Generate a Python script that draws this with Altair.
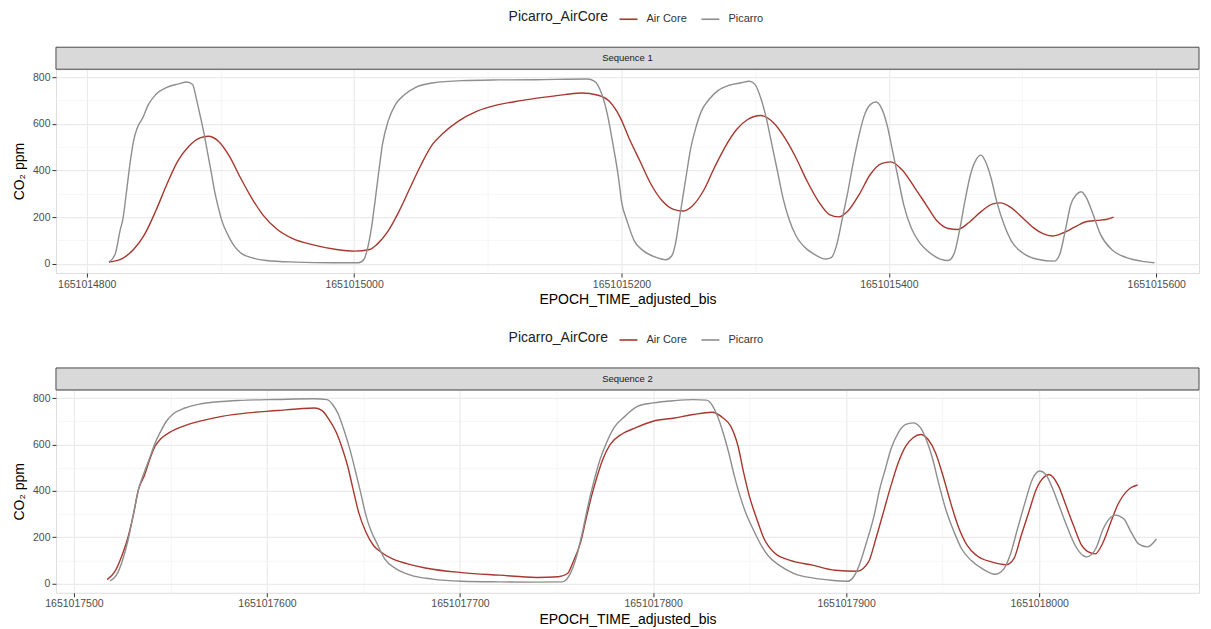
import altair as alt
import pandas as pd

# ---------------- data ----------------
SEQ1_T0 = 1651014800
SEQ2_T0 = 1651017500

seq1_air_t = [16.6, 26.8, 35.0, 43.3, 51.6, 59.9, 68.1, 76.4, 84.7, 90.8,
              98.5, 106.8, 115.0, 123.3, 131.6, 142.6, 153.7, 170.2, 186.8, 200.6,
              211.6, 217.1, 225.4, 233.7, 241.9, 250.2, 258.5, 266.8, 277.8, 291.6,
              308.1, 324.7, 341.2, 357.8, 370.2, 382.6, 390.9, 399.2, 405.6, 413.9,
              422.2, 430.6, 438.9, 445.8, 452.8, 461.1, 469.4, 477.8, 486.1, 494.4,
              504.2, 513.9, 522.2, 530.6, 538.9, 547.2, 555.6, 562.5, 569.4, 577.8,
              586.1, 594.4, 601.4, 609.7, 619.4, 627.8, 636.1, 644.4, 651.4, 659.7,
              669.4, 677.8, 683.3, 691.7, 700.0, 708.3, 715.3, 722.2, 730.6, 738.9,
              747.2, 755.6, 762.5, 768.1]
seq1_air_v = [7, 23, 61, 126, 226, 340, 440, 504, 540, 547,
              526, 461, 369, 283, 211, 147, 109, 80, 61, 54,
              61, 83, 140, 226, 326, 426, 511, 561, 611, 654,
              683, 700, 714, 726, 733, 723, 697, 626, 540, 440,
              340, 269, 233, 226, 247, 311, 411, 504, 576, 619,
              636, 604, 540, 454, 354, 269, 211, 201, 226, 297,
              383, 430, 437, 404, 326, 254, 183, 151, 147, 176,
              226, 257, 261, 240, 197, 154, 129, 119, 133, 157,
              180, 186, 190, 200]

seq1_pic_t = [16.6, 21.2, 25.4, 26.8, 29.5, 32.3, 35.0, 37.8, 41.9, 46.1,
              51.6, 59.9, 68.1, 75.0, 79.2, 81.9, 84.7, 87.4, 90.2, 93.0,
              95.7, 98.5, 101.2, 105.4, 109.5, 115.0, 123.3, 134.3, 156.4, 184.0,
              203.3, 207.4, 210.2, 213.0, 215.7, 218.5, 221.2, 225.4, 230.9, 237.8,
              246.1, 258.5, 280.6, 308.1, 335.7, 374.3, 379.9, 385.4, 389.5, 393.7,
              397.8, 400.0, 404.2, 409.7, 416.7, 425.0, 433.3, 437.5, 440.3, 443.1,
              445.8, 448.6, 451.4, 455.6, 459.7, 465.3, 472.2, 480.6, 488.9, 495.8,
              500.0, 504.2, 508.3, 512.5, 516.7, 520.8, 525.0, 530.6, 536.1, 544.4,
              552.8, 556.9, 561.1, 565.3, 569.4, 573.6, 577.8, 581.9, 586.1, 590.3,
              594.4, 598.6, 602.8, 606.9, 611.1, 616.7, 622.2, 630.6, 638.9, 644.4,
              648.6, 652.8, 656.9, 661.1, 665.3, 668.9, 672.2, 676.4, 680.6, 686.1,
              691.7, 700.0, 711.1, 723.6, 727.8, 731.9, 736.1, 740.3, 743.9, 747.8,
              752.8, 758.3, 766.7, 777.8, 788.9, 798.6]
seq1_pic_v = [7, 40, 154, 183, 297, 426, 526, 583, 626, 683,
              726, 757, 771, 780, 769, 711, 640, 569, 483, 397,
              311, 240, 183, 126, 83, 47, 26, 14, 7, 4,
              4, 19, 69, 154, 269, 397, 511, 611, 683, 726,
              757, 776, 786, 789, 790, 793, 783, 726, 640, 511,
              369, 269, 183, 97, 54, 29, 17, 33, 83, 183,
              283, 383, 483, 583, 654, 704, 743, 766, 776, 783,
              769, 711, 626, 511, 397, 283, 197, 119, 76, 40,
              20, 26, 83, 197, 311, 440, 554, 640, 683, 694,
              669, 597, 483, 369, 254, 154, 97, 47, 19, 14,
              40, 140, 269, 383, 447, 466, 440, 369, 269, 169,
              97, 47, 19, 11, 40, 140, 254, 297, 309, 283,
              211, 126, 61, 26, 11, 4]

seq2_air_t = [17.2, 21.1, 24.9, 27.8, 30.7, 33.5, 36.4, 39.3, 42.1, 45.0,
              49.8, 57.5, 67.0, 76.6, 90.0, 105.4, 116.9, 124.5, 128.4, 132.2,
              136.0, 138.9, 141.8, 144.6, 147.5, 151.3, 155.2, 159.0, 164.8, 172.4,
              182.0, 201.1, 220.3, 239.5, 251.0, 255.7, 258.6, 262.5, 265.3, 268.2,
              271.1, 274.0, 277.8, 283.5, 290.8, 300.0, 311.2, 320.8, 330.5, 336.3,
              340.2, 344.0, 346.9, 349.8, 353.7, 357.5, 363.3, 371.0, 382.6, 394.2,
              405.8, 411.6, 415.4, 419.3, 423.2, 427.0, 430.9, 434.7, 438.6, 442.5,
              446.3, 450.2, 454.1, 457.9, 462.7, 467.6, 475.3, 483.0, 486.9, 490.7,
              494.6, 498.5, 502.3, 505.0, 510.0, 513.9, 517.8, 521.6, 525.5, 529.0,
              533.2, 537.1, 540.9, 544.8, 547.7, 551.0]
seq2_air_v = [17, 50, 121, 193, 293, 407, 464, 536, 593, 624,
              653, 681, 704, 721, 736, 746, 754, 757, 747, 707,
              650, 586, 507, 407, 307, 221, 164, 136, 107, 86,
              67, 47, 36, 26, 29, 43, 93, 179, 279, 379,
              464, 536, 600, 643, 671, 700, 714, 729, 739, 714,
              679, 593, 479, 379, 279, 193, 129, 100, 79, 57,
              53, 93, 193, 307, 421, 521, 593, 629, 643, 621,
              564, 464, 350, 250, 164, 121, 93, 81, 107, 207,
              307, 407, 457, 470, 421, 336, 250, 171, 136, 128,
              179, 264, 343, 393, 414, 425]

seq2_pic_t = [18.8, 22.0, 24.9, 27.8, 30.7, 33.5, 36.4, 39.3, 42.1, 45.0,
              47.9, 51.7, 57.5, 65.1, 74.7, 86.2, 105.4, 124.5, 131.2, 134.1,
              137.0, 139.8, 142.7, 145.6, 148.5, 151.3, 154.2, 157.1, 160.9, 166.7,
              174.3, 185.8, 201.1, 220.3, 239.5, 252.9, 256.7, 260.5, 263.4, 266.3,
              269.2, 272.0, 275.9, 279.7, 285.4, 291.9, 300.0, 311.2, 320.8, 327.6,
              330.5, 333.4, 336.3, 339.2, 342.1, 345.0, 347.9, 351.7, 355.6, 359.5,
              365.3, 373.0, 382.6, 392.3, 401.0, 403.9, 406.8, 410.6, 414.5, 417.4,
              420.3, 423.2, 427.0, 430.9, 434.7, 438.6, 441.5, 444.4, 448.3, 452.1,
              456.0, 459.8, 464.7, 470.5, 477.2, 481.1, 484.9, 488.8, 492.7, 496.5,
              500.3, 503.3, 507.1, 511.0, 514.9, 518.7, 522.6, 524.6, 529.3, 533.2,
              537.1, 539.6, 543.8, 547.7, 551.5, 556.0, 560.8]
seq2_pic_v = [11, 36, 93, 179, 293, 407, 479, 543, 607, 657,
              700, 733, 757, 774, 784, 790, 794, 797, 793, 771,
              729, 664, 586, 493, 393, 293, 221, 171, 107, 64,
              36, 19, 10, 7, 6, 7, 36, 121, 221, 336,
              436, 521, 607, 671, 721, 764, 779, 789, 793, 791,
              771, 721, 650, 564, 464, 379, 307, 236, 171, 121,
              79, 43, 24, 14, 10, 29, 79, 179, 293, 407,
              493, 579, 650, 686, 693, 671, 621, 550, 421, 307,
              221, 150, 100, 64, 40, 57, 121, 236, 350, 450,
              485, 471, 407, 321, 236, 164, 121, 115, 150, 236,
              286, 295, 279, 221, 171, 158, 192]

series_names = ["Air Core", "Picarro"]
series_colors = ["#A8382F", "#8E8E8E"]
y_major = [0, 200, 400, 600, 800]
y_minor = [100, 300, 500, 700]
seq1_x_major = [1651014800, 1651015000, 1651015200, 1651015400, 1651015600]
seq1_x_minor = [1651014900, 1651015100, 1651015300, 1651015500]
seq2_x_major = [1651017500, 1651017600, 1651017700, 1651017800, 1651017900, 1651018000]
seq2_x_minor = [1651017550, 1651017650, 1651017750, 1651017850, 1651017950, 1651018050]

for a, b in [(seq1_air_t, seq1_air_v), (seq1_pic_t, seq1_pic_v),
             (seq2_air_t, seq2_air_v), (seq2_pic_t, seq2_pic_v)]:
    assert len(a) == len(b), (len(a), len(b))

# ---------------- layout ----------------
W = 1144
STRIP = 22
FONT = "Liberation Sans, Arial, Helvetica, sans-serif"


def panel(label, t0, air_t, air_v, pic_t, pic_v, xdom, xmajor, xminor, H):
    df = pd.DataFrame({
        "t": [t0 + x for x in air_t] + [t0 + x for x in pic_t],
        "v": air_v + pic_v,
        "Picarro_AirCore": [series_names[0]] * len(air_t) + [series_names[1]] * len(pic_t),
    })
    xscale = alt.Scale(domain=xdom, nice=False, zero=False)
    yscale = alt.Scale(domain=[-40, 835], nice=False, zero=False)

    lines = alt.Chart(df).mark_line(strokeWidth=1.4, interpolate="monotone").encode(
        x=alt.X("t:Q", scale=xscale, axis=alt.Axis(
            values=xmajor, format="d", title="EPOCH_TIME_adjusted_bis",
            grid=True, gridColor="#EBEBEB", gridWidth=1.2, domain=False,
            tickColor="#333333", tickSize=4, labelColor="#4D4D4D", labelFontSize=10.5,
            labelPadding=2, titleFontSize=14, titleColor="#000000",
            titleFontWeight="normal", titlePadding=3, labelFont=FONT, titleFont=FONT)),
        y=alt.Y("v:Q", scale=yscale, axis=alt.Axis(
            values=y_major, title="CO\u2082 ppm",
            grid=True, gridColor="#EBEBEB", gridWidth=1.2, domain=False,
            tickColor="#333333", tickSize=4, labelColor="#4D4D4D", labelFontSize=10.5,
            labelPadding=2, titleFontSize=14, titleColor="#000000",
            titleFontWeight="normal", titlePadding=6, labelFont=FONT, titleFont=FONT)),
        color=alt.Color("Picarro_AirCore:N",
                        scale=alt.Scale(domain=series_names, range=series_colors),
                        legend=alt.Legend(
                            orient="none", legendX=453, legendY=-60,
                            direction="horizontal", titleOrient="left",
                            title="Picarro_AirCore", titleFontSize=14,
                            titleFontWeight="normal", titleColor="#222222",
                            titleFont=FONT, labelFont=FONT,
                            labelFontSize=11, labelColor="#333333",
                            symbolType="stroke", symbolSize=324,
                            symbolStrokeWidth=1.6, labelOffset=8,
                            columnPadding=10, titlePadding=10, padding=0)),
    )

    minor = alt.Chart(df).mark_point(opacity=0, size=1).encode(
        x=alt.X("t:Q", scale=xscale, axis=alt.Axis(
            values=xminor, title=None, grid=True, gridColor="#F2F2F2",
            gridWidth=0.7, labels=False, ticks=False, domain=False)),
        y=alt.Y("v:Q", scale=yscale, axis=alt.Axis(
            values=y_minor, title=None, grid=True, gridColor="#F2F2F2",
            gridWidth=0.7, labels=False, ticks=False, domain=False)),
    )

    strip_df = pd.DataFrame({"label": [label]})
    strip_rect = alt.Chart(strip_df).mark_rect(
        fill="#D9D9D9", stroke="#4A4A4A", strokeWidth=1).encode(
        x=alt.value(0), x2=alt.value(W), y=alt.value(-STRIP), y2=alt.value(0))
    strip_text = alt.Chart(strip_df).mark_text(
        fontSize=9.5, color="#1A1A1A", font=FONT, baseline="middle", align="center").encode(
        x=alt.value(W / 2), y=alt.value(-STRIP / 2), text="label:N")

    return alt.layer(lines, minor, strip_rect, strip_text).resolve_axis(
        x="independent", y="independent").properties(width=W, height=H)


p1 = panel("Sequence 1", SEQ1_T0, seq1_air_t, seq1_air_v, seq1_pic_t, seq1_pic_v,
           [1651014777, 1651015632], seq1_x_major, seq1_x_minor, 204)
p2 = panel("Sequence 2", SEQ2_T0, seq2_air_t, seq2_air_v, seq2_pic_t, seq2_pic_v,
           [1651017490.7, 1651018082.8], seq2_x_major, seq2_x_minor, 203)

chart = alt.vconcat(p1, p2, spacing=22).resolve_scale(
    x="independent", y="independent", color="independent"
).resolve_legend(color="independent").properties(
    padding={"left": 3, "top": 0, "right": 3, "bottom": 0}
).configure_view(stroke="#4A4A4A", strokeWidth=1).configure(background="white")

chart.save("out.html", embed_options={"renderer": "svg", "actions": False})
